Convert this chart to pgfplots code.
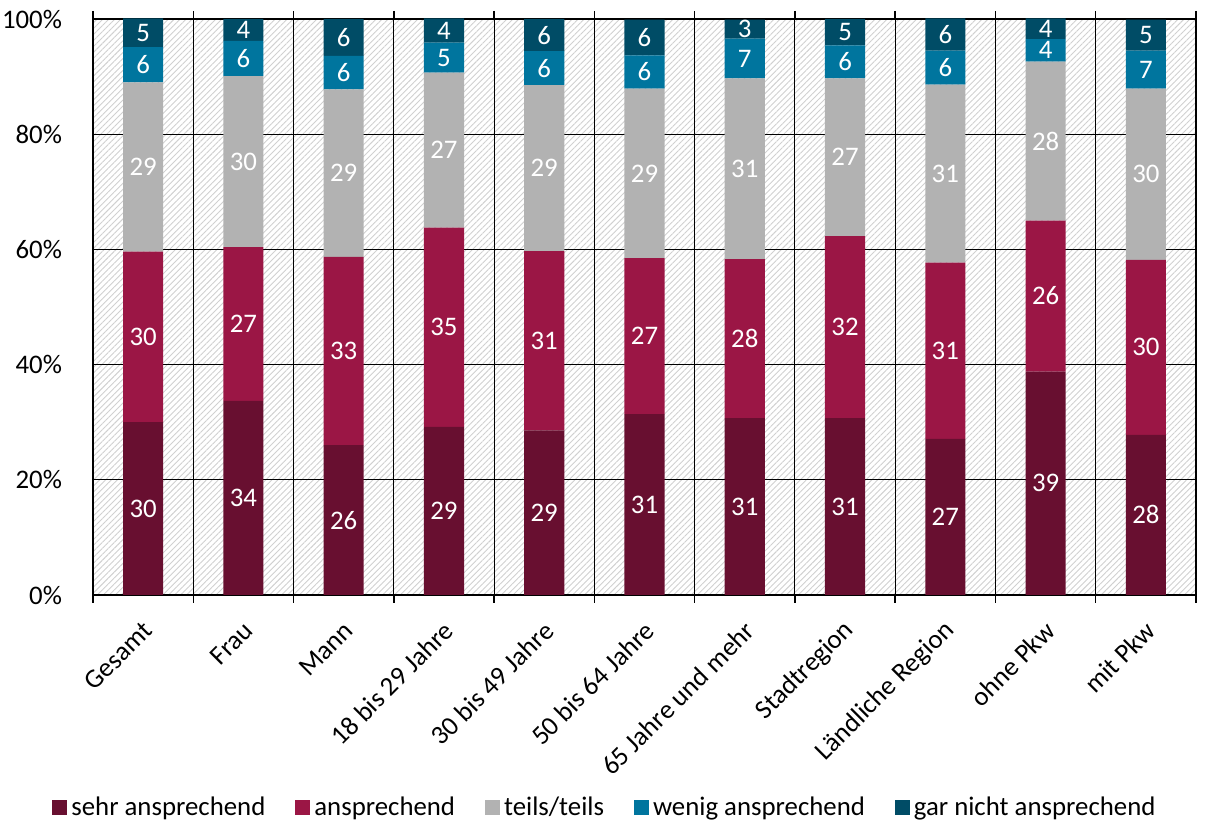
\documentclass[border=0pt]{standalone}
\usepackage{fontspec}
\setmainfont{Carlito}
\usepackage{pgfplots}
\usepackage{pgfplotstable}
\pgfplotsset{compat=1.18}
\usetikzlibrary{patterns.meta}

\definecolor{sehr}{RGB}{104,15,48}
\definecolor{ansp}{RGB}{155,22,69}
\definecolor{teils}{RGB}{178,178,178}
\definecolor{wenig}{RGB}{0,117,158}
\definecolor{garn}{RGB}{0,76,102}
\definecolor{hatch}{RGB}{208,208,208}

% shares in percent: a = sehr ansprechend, b = ansprechend, c = teils/teils,
% d = wenig ansprechend, e = gar nicht ansprechend
\pgfplotstableread{
x  a     b     c     d    e
0  30.0  29.6  29.4  6.1  5.0
1  33.7  26.7  29.7  6.1  3.8
2  26.0  32.7  29.1  5.8  6.4
3  29.2  34.6  26.9  5.2  4.2
4  28.6  31.1  28.8  5.9  5.6
5  31.4  27.1  29.4  5.8  6.2
6  30.7  27.6  31.4  6.9  3.3
7  30.7  31.6  27.4  5.7  4.6
8  27.1  30.6  30.9  5.9  5.6
9  38.8  26.2  27.6  3.9  3.6
10 27.8  30.4  29.7  6.6  5.4
}\data

\newcommand\lblfont{\fontsize{13.4}{15}\selectfont}

\pgfplotsset{
  /pgf/number format/assume math mode=true,
  frame/.style={
    scale only axis,
    width=551.5pt, height=288pt,
    xmin=-0.5, xmax=10.5,
    ymin=0, ymax=100,
  },
  seglabel/.style={
    only marks, mark=none,
    point meta=explicit,
    nodes near coords={\pgfmathprintnumber[fixed,precision=0,assume math mode=true]{\pgfplotspointmeta}},
    every node near coord/.style={anchor=center, text=white, font=\lblfont},
  },
}

\begin{document}
\begin{tikzpicture}
\begin{axis}[
  frame,
  axis background/.style={pattern={Lines[angle=45,distance=2.1pt,line width=0.45pt]}, pattern color=hatch},
  xtick={-0.5,0.5,...,10.5},
  x tick label as interval,
  xticklabels={Gesamt,Frau,Mann,18 bis 29 Jahre,30 bis 49 Jahre,50 bis 64 Jahre,65 Jahre und mehr,Stadtregion,Ländliche Region,ohne Pkw,mit Pkw},
  xticklabel style={rotate=45, anchor=east, font=\lblfont, yshift=-10pt, xshift=-3pt},
  xmajorgrids,
  ymajorgrids,
  major grid style={black, line width=0.5pt},
  tick align=outside,
  major tick length=4pt,
  xtick style={black, line width=0.7pt},
  ytick={0,20,...,100},
  ytick style={draw=none},
  yticklabel={\pgfmathprintnumber{\tick}\%},
  yticklabel style={font=\lblfont, xshift=-8pt},
  axis line style={black, line width=0.6pt},
  separate axis lines,
  x axis line style={line width=1pt},
  ybar stacked,
  bar width=0.4,
  legend style={
    at={(0.465,-0.37)}, anchor=center,
    draw=none, fill=none,
    legend columns=5,
    font=\lblfont,
    /tikz/every even column/.append style={column sep=13pt},
  },
  legend image code/.code={\fill[#1] (0pt,-3.2pt) rectangle (7.5pt,4.3pt);},
]
\addplot[fill=sehr, draw=none] table[x=x, y=a] {\data};
\addplot[fill=ansp, draw=none] table[x=x, y=b] {\data};
\addplot[fill=teils, draw=none] table[x=x, y=c] {\data};
\addplot[fill=wenig, draw=none] table[x=x, y=d] {\data};
\addplot[fill=garn, draw=none] table[x=x, y=e] {\data};
\legend{sehr ansprechend, ansprechend, teils/teils, wenig ansprechend, gar nicht ansprechend}
\end{axis}

% value labels in the middle of each segment
\begin{axis}[frame, hide axis]
\addplot[seglabel] table[x=x, y expr=\thisrow{a}/2, meta=a] {\data};
\addplot[seglabel] table[x=x, y expr=\thisrow{a}+\thisrow{b}/2, meta=b] {\data};
\addplot[seglabel] table[x=x, y expr=\thisrow{a}+\thisrow{b}+\thisrow{c}/2, meta=c] {\data};
\addplot[seglabel] table[x=x, y expr=\thisrow{a}+\thisrow{b}+\thisrow{c}+\thisrow{d}/2, meta=d] {\data};
\addplot[seglabel] table[x=x, y expr=\thisrow{a}+\thisrow{b}+\thisrow{c}+\thisrow{d}+\thisrow{e}/2, meta=e] {\data};
\end{axis}
\pgfresetboundingbox
\useasboundingbox ([xshift=-46.5pt,yshift=-114pt]current axis.south west) rectangle ([xshift=5pt,yshift=9.5pt]current axis.north east);
\end{tikzpicture}
\end{document}
